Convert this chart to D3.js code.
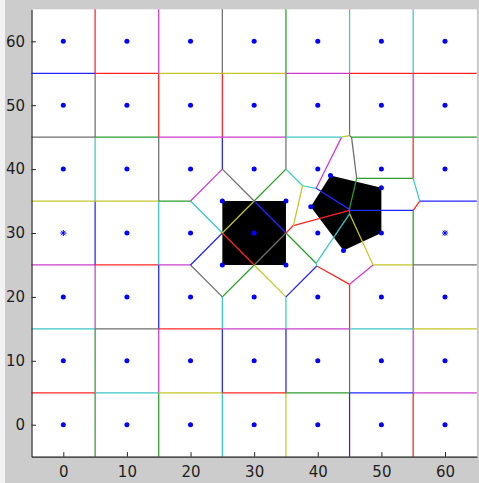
<!DOCTYPE html>
<html><head><meta charset="utf-8">
<script src="https://cdn.jsdelivr.net/npm/d3@7"></script>
<style>html,body{margin:0;padding:0;background:#cccccc;overflow:hidden}</style>
</head><body>
<svg id="chart" width="479" height="483"></svg>
<script>
// ---------------- data ----------------
const gridX = [0, 10, 20, 30, 40, 50, 60];
const gridY = [0, 10, 20, 30, 40, 50, 60];
const squareCorners = [[25, 35], [35, 35], [35, 25], [25, 25]];
const squareIds = ["S1", "S2", "S4", "S3"];
const pentagonVertices = [[42.0, 39.0], [50.0, 37.1], [50, 30], [44.05, 27.25], [38.9, 34.1]];
const pentagonIds = ["P1", "P2", "P3", "P4", "P5"];
const starMarkers = [[0, 30], [60, 30]];
const xTicks = [0, 10, 20, 30, 40, 50, 60];
const yTicks = [0, 10, 20, 30, 40, 50, 60];
// colours of vertical grid boundaries x = 5..55; rows: y 55..65 (top) down to -5..5
const vEdgeColors = ["rmkgcc", "krrgkm", "ckbk.r", "bc...g", "mbccrk", "gmbbkm", "ggcybr"];
// colours of horizontal grid boundaries y = 55 (top) .. 5; columns x -5..5 ... 55..65
const hEdgeColors = ["bryymrr", "kgmmcgg", "yyg...b", "mrm..yk", "ckrmmcy", "rcyrgbm"];
// colours of the irregular boundaries, by the pair of sites they separate
const pairColors = [
  ["G24", "S1", "m"], ["G34", "S1", "k"], ["G23", "S1", "c"], ["S1", "G33", "y"],
  ["S2", "G33", "b"], ["S3", "G33", "r"], ["S4", "G33", "k"], ["G34", "S2", "g"],
  ["G44", "S2", "c"], ["G44", "P5", "c"], ["S2", "P5", "y"], ["P5", "G43", "r"],
  ["S2", "G43", "r"], ["S4", "G43", "g"], ["G43", "P4", "c"], ["S4", "G42", "b"],
  ["G42", "P4", "r"], ["G52", "P4", "m"], ["P3", "P4", "y"], ["S3", "G23", "b"],
  ["G22", "S3", "k"], ["G32", "S3", "g"], ["G32", "S4", "y"], ["G45", "P1", "y"],
  ["P1", "G54", "k"], ["G44", "P1", "m"], ["P2", "G54", "g"], ["P1", "P2", "g"],
  ["P2", "G64", "c"], ["P2", "G63", "r"], ["P2", "P3", "b"], ["P1", "P5", "b"],
  ["S4", "P4", "c"], ["P4", "P5", "c"]
];
const palette = {r: "#ff2424", g: "#2c9c2c", b: "#2424ff", c: "#3cc6c6", m: "#cc3ccc", y: "#c6c62a", k: "#6e6e6e"};

// ---------------- layout ----------------
const svg = d3.select("#chart");
const x = d3.scaleLinear().domain([-5, 65]).range([31.5, 476.8]);
const y = d3.scaleLinear().domain([-5, 65]).range([456.65, 9.35]);

svg.append("rect").attr("x", 0).attr("y", 0).attr("width", 5).attr("height", 483).attr("fill", "#f2f2f2");
svg.append("rect").attr("x", x(-5)).attr("y", y(65)).attr("width", x(65) - x(-5)).attr("height", y(-5) - y(65)).attr("fill", "#ffffff");

// ---------------- sites ----------------
const sites = [];
const alias = {};
gridX.forEach((gx, i) => gridY.forEach((gy, j) => sites.push({id: "G" + i + j, x: gx, y: gy})));
function addSite(id, p) {
  const dup = sites.find(s => Math.abs(s.x - p[0]) < 1e-9 && Math.abs(s.y - p[1]) < 1e-9);
  if (dup) { alias[id] = dup.id; return; }
  sites.push({id, x: p[0], y: p[1]});
}
squareCorners.forEach((p, k) => addSite(squareIds[k], p));
pentagonVertices.forEach((p, k) => addSite(pentagonIds[k], p));
const norm = id => alias[id] || id;
const pairMap = new Map(pairColors.map(([a, b, c]) => [[norm(a), norm(b)].sort().join("|"), c]));

function edgeColor(a, b) {
  const ga = /^G(\d)(\d)$/.exec(a.id), gb = /^G(\d)(\d)$/.exec(b.id);
  if (ga && gb) {
    const i1 = +ga[1], j1 = +ga[2], i2 = +gb[1], j2 = +gb[2];
    if (j1 === j2 && Math.abs(i1 - i2) === 1) {
      const ch = vEdgeColors[6 - j1][Math.min(i1, i2)];
      if (ch !== ".") return ch;
    }
    if (i1 === i2 && Math.abs(j1 - j2) === 1) {
      const ch = hEdgeColors[5 - Math.min(j1, j2)][i1];
      if (ch !== ".") return ch;
    }
  }
  const key = [a.id, b.id].sort().join("|");
  return pairMap.get(key) || "k";
}

// ---------------- voronoi ----------------
const delaunay = d3.Delaunay.from(sites, d => d.x, d => d.y);
const voronoi = delaunay.voronoi([-5, -5, 65, 65]);
const edges = new Map();
const r4 = v => Math.round(v * 1e4) / 1e4;
sites.forEach((s, i) => {
  const poly = voronoi.cellPolygon(i);
  if (!poly) return;
  for (let k = 0; k < poly.length - 1; k++) {
    const a = poly[k], b = poly[k + 1];
    if (Math.hypot(a[0] - b[0], a[1] - b[1]) < 1e-6) continue;
    const ka = r4(a[0]) + "," + r4(a[1]), kb = r4(b[0]) + "," + r4(b[1]);
    const key = ka < kb ? ka + "|" + kb : kb + "|" + ka;
    if (edges.has(key)) edges.get(key).cells.push(i);
    else edges.set(key, {a, b, cells: [i]});
  }
});
const edgeList = [...edges.values()].filter(e => e.cells.length === 2)
  .map(e => ({a: e.a, b: e.b, col: edgeColor(sites[e.cells[0]], sites[e.cells[1]])}));

// ---------------- obstacles ----------------
const line = d3.line().x(d => x(d[0])).y(d => y(d[1]));
svg.append("path").attr("d", line(squareCorners) + "Z").attr("fill", "#000");
svg.append("path").attr("d", line(pentagonVertices) + "Z").attr("fill", "#000");

// ---------------- edges ----------------
svg.append("g").selectAll("line").data(edgeList).join("line")
  .attr("x1", d => x(d.a[0])).attr("y1", d => y(d.a[1]))
  .attr("x2", d => x(d.b[0])).attr("y2", d => y(d.b[1]))
  .attr("stroke", d => palette[d.col]).attr("stroke-width", 1.25);

// ---------------- points ----------------
const isStar = s => starMarkers.some(p => p[0] === s.x && p[1] === s.y);
svg.append("g").selectAll("circle").data(sites.filter(s => !isStar(s))).join("circle")
  .attr("cx", d => x(d.x)).attr("cy", d => y(d.y)).attr("r", 2.5).attr("fill", "#0000ff");
const stars = svg.append("g").attr("stroke", "#0000ff").attr("stroke-width", 1);
starMarkers.forEach(p => {
  const cx = x(p[0]), cy = y(p[1]), L = 3;
  [[L, 0], [0, L], [L * 0.75, L * 0.75], [L * 0.75, -L * 0.75]].forEach(([dx, dy]) =>
    stars.append("line").attr("x1", cx - dx).attr("y1", cy - dy).attr("x2", cx + dx).attr("y2", cy + dy));
});

// ---------------- axes ----------------
const font = "'DejaVu Sans', sans-serif";
const ax = svg.append("g").attr("transform", `translate(0,${y(-5)})`)
  .call(d3.axisBottom(x).tickValues(xTicks).tickSizeInner(-4.5).tickSizeOuter(0).tickPadding(9.5));
const ay = svg.append("g").attr("transform", `translate(${x(-5)},0)`)
  .call(d3.axisLeft(y).tickValues(yTicks).tickSizeInner(-4.5).tickSizeOuter(0).tickPadding(6.5));
[ax, ay].forEach(g => {
  g.select(".domain").attr("stroke", "#262626").attr("stroke-width", 1.2);
  g.selectAll(".tick line").attr("stroke", "#262626");
  g.selectAll(".tick text").attr("font-family", font).attr("font-size", 15).attr("fill", "#1e1e1e");
});
</script>
</body></html>
